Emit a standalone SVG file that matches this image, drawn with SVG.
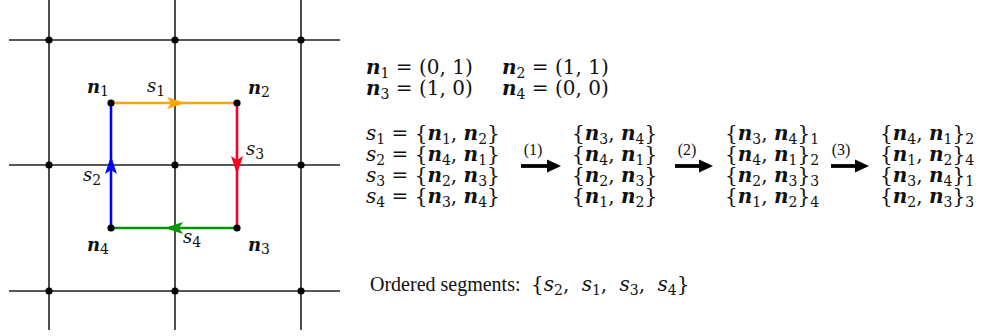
<svg xmlns="http://www.w3.org/2000/svg" width="990" height="336" viewBox="0 0 990 336">
<style>
.grid{stroke:#222;stroke-width:1.6;fill:none}
.dot{fill:#000}
.t{font-family:"DejaVu Serif","Liberation Serif",serif;font-size:20px;fill:#111}
.l{font-family:"DejaVu Serif","Liberation Serif",serif;font-size:18px;fill:#111}
.r{font-family:"Liberation Serif","DejaVu Serif",serif;font-size:20px;fill:#111}
.i{font-style:italic}
.b{font-weight:bold;font-style:italic}
.sub{font-size:14px}
.sm{font-family:"Liberation Serif","DejaVu Serif",serif;font-size:16px;fill:#111}
.big{stroke:#000;stroke-width:3.8}
.ws{word-spacing:6px}
</style>
<rect width="990" height="336" fill="#fff"/>
<g id="grid">
<path class="grid" d="M9,40H340M9,165H340M9,291H340M49,0V330M175,0V330M301,0V330"/>
<g class="dot">
<circle cx="49" cy="40" r="3.6"/><circle cx="175" cy="40" r="3.6"/><circle cx="301" cy="40" r="3.6"/>
<circle cx="49" cy="165" r="3.6"/><circle cx="175" cy="165" r="3.6"/><circle cx="301" cy="165" r="3.6"/>
<circle cx="49" cy="291" r="3.6"/><circle cx="175" cy="291" r="3.6"/><circle cx="301" cy="291" r="3.6"/>
</g>
</g>
<g id="connectors" stroke-width="2.6" fill="none">
<g id="s1"><path d="M111,103H237" stroke="#FFA500"/><path d="M185,103L167,97L171,103L167,109Z" fill="#FFA500"/></g>
<g id="s3"><path d="M237,103V228" stroke="#FF0022"/><path d="M237,174L231,156L237,160L243,156Z" fill="#FF0022"/></g>
<g id="s4"><path d="M237,228H111" stroke="#009600"/><path d="M165,228L183,222L179,228L183,234Z" fill="#009600"/></g>
<g id="s2"><path d="M111,228V103" stroke="#0000FF"/><path d="M111,156L105,174L111,170L117,174Z" fill="#0000FF"/></g>
</g>
<g id="n1"><circle class="dot" cx="111" cy="103" r="3.6"/><text class="l" x="87" y="93"><tspan class="b">n</tspan><tspan class="sub" dy="3">1</tspan></text></g>
<g id="n2"><circle class="dot" cx="237" cy="103" r="3.6"/><text class="l" x="248" y="94"><tspan class="b">n</tspan><tspan class="sub" dy="3">2</tspan></text></g>
<g id="n3"><circle class="dot" cx="237" cy="228" r="3.6"/><text class="l" x="248" y="251"><tspan class="b">n</tspan><tspan class="sub" dy="3">3</tspan></text></g>
<g id="n4"><circle class="dot" cx="111" cy="228" r="3.6"/><text class="l" x="87" y="251"><tspan class="b">n</tspan><tspan class="sub" dy="3">4</tspan></text></g>
<g id="labels">
<text class="l" x="147" y="92"><tspan class="i">s</tspan><tspan class="sub" dy="4">1</tspan></text>
<text class="l" x="246" y="155"><tspan class="i">s</tspan><tspan class="sub" dy="4">3</tspan></text>
<text class="l" x="83" y="181"><tspan class="i">s</tspan><tspan class="sub" dy="4">2</tspan></text>
<text class="l" x="183" y="243"><tspan class="i">s</tspan><tspan class="sub" dy="4">4</tspan></text>
</g>
<g id="coords">
<text class="t" x="366" y="74"><tspan class="b">n</tspan><tspan class="sub" dy="4">1</tspan><tspan dy="-4"> = (0, 1)</tspan></text>
<text class="t" x="502" y="74"><tspan class="b">n</tspan><tspan class="sub" dy="4">2</tspan><tspan dy="-4"> = (1, 1)</tspan></text>
<text class="t" x="366" y="95"><tspan class="b">n</tspan><tspan class="sub" dy="4">3</tspan><tspan dy="-4"> = (1, 0)</tspan></text>
<text class="t" x="502" y="95"><tspan class="b">n</tspan><tspan class="sub" dy="4">4</tspan><tspan dy="-4"> = (0, 0)</tspan></text>
</g>
<g id="col1">
<text class="t" x="366" y="140"><tspan class="i">s</tspan><tspan class="sub" dy="4">1</tspan><tspan dy="-4"> = {</tspan><tspan class="b">n</tspan><tspan class="sub" dy="4">1</tspan><tspan dy="-4">, </tspan><tspan class="b">n</tspan><tspan class="sub" dy="4">2</tspan><tspan dy="-4">}</tspan></text>
<text class="t" x="366" y="161"><tspan class="i">s</tspan><tspan class="sub" dy="4">2</tspan><tspan dy="-4"> = {</tspan><tspan class="b">n</tspan><tspan class="sub" dy="4">4</tspan><tspan dy="-4">, </tspan><tspan class="b">n</tspan><tspan class="sub" dy="4">1</tspan><tspan dy="-4">}</tspan></text>
<text class="t" x="366" y="182"><tspan class="i">s</tspan><tspan class="sub" dy="4">3</tspan><tspan dy="-4"> = {</tspan><tspan class="b">n</tspan><tspan class="sub" dy="4">2</tspan><tspan dy="-4">, </tspan><tspan class="b">n</tspan><tspan class="sub" dy="4">3</tspan><tspan dy="-4">}</tspan></text>
<text class="t" x="366" y="203"><tspan class="i">s</tspan><tspan class="sub" dy="4">4</tspan><tspan dy="-4"> = {</tspan><tspan class="b">n</tspan><tspan class="sub" dy="4">3</tspan><tspan dy="-4">, </tspan><tspan class="b">n</tspan><tspan class="sub" dy="4">4</tspan><tspan dy="-4">}</tspan></text>
</g>
<g id="col2">
<text class="t" x="572" y="140">{<tspan class="b">n</tspan><tspan class="sub" dy="4">3</tspan><tspan dy="-4">, </tspan><tspan class="b">n</tspan><tspan class="sub" dy="4">4</tspan><tspan dy="-4">}</tspan></text>
<text class="t" x="572" y="161">{<tspan class="b">n</tspan><tspan class="sub" dy="4">4</tspan><tspan dy="-4">, </tspan><tspan class="b">n</tspan><tspan class="sub" dy="4">1</tspan><tspan dy="-4">}</tspan></text>
<text class="t" x="572" y="182">{<tspan class="b">n</tspan><tspan class="sub" dy="4">2</tspan><tspan dy="-4">, </tspan><tspan class="b">n</tspan><tspan class="sub" dy="4">3</tspan><tspan dy="-4">}</tspan></text>
<text class="t" x="572" y="203">{<tspan class="b">n</tspan><tspan class="sub" dy="4">1</tspan><tspan dy="-4">, </tspan><tspan class="b">n</tspan><tspan class="sub" dy="4">2</tspan><tspan dy="-4">}</tspan></text>
</g>
<g id="col3">
<text class="t" x="725" y="140">{<tspan class="b">n</tspan><tspan class="sub" dy="4">3</tspan><tspan dy="-4">, </tspan><tspan class="b">n</tspan><tspan class="sub" dy="4">4</tspan><tspan dy="-4">}</tspan><tspan class="sub" dy="4">1</tspan></text>
<text class="t" x="725" y="161">{<tspan class="b">n</tspan><tspan class="sub" dy="4">4</tspan><tspan dy="-4">, </tspan><tspan class="b">n</tspan><tspan class="sub" dy="4">1</tspan><tspan dy="-4">}</tspan><tspan class="sub" dy="4">2</tspan></text>
<text class="t" x="725" y="182">{<tspan class="b">n</tspan><tspan class="sub" dy="4">2</tspan><tspan dy="-4">, </tspan><tspan class="b">n</tspan><tspan class="sub" dy="4">3</tspan><tspan dy="-4">}</tspan><tspan class="sub" dy="4">3</tspan></text>
<text class="t" x="725" y="203">{<tspan class="b">n</tspan><tspan class="sub" dy="4">1</tspan><tspan dy="-4">, </tspan><tspan class="b">n</tspan><tspan class="sub" dy="4">2</tspan><tspan dy="-4">}</tspan><tspan class="sub" dy="4">4</tspan></text>
</g>
<g id="col4">
<text class="t" x="880" y="140">{<tspan class="b">n</tspan><tspan class="sub" dy="4">4</tspan><tspan dy="-4">, </tspan><tspan class="b">n</tspan><tspan class="sub" dy="4">1</tspan><tspan dy="-4">}</tspan><tspan class="sub" dy="4">2</tspan></text>
<text class="t" x="880" y="161">{<tspan class="b">n</tspan><tspan class="sub" dy="4">1</tspan><tspan dy="-4">, </tspan><tspan class="b">n</tspan><tspan class="sub" dy="4">2</tspan><tspan dy="-4">}</tspan><tspan class="sub" dy="4">4</tspan></text>
<text class="t" x="880" y="182">{<tspan class="b">n</tspan><tspan class="sub" dy="4">3</tspan><tspan dy="-4">, </tspan><tspan class="b">n</tspan><tspan class="sub" dy="4">4</tspan><tspan dy="-4">}</tspan><tspan class="sub" dy="4">1</tspan></text>
<text class="t" x="880" y="203">{<tspan class="b">n</tspan><tspan class="sub" dy="4">2</tspan><tspan dy="-4">, </tspan><tspan class="b">n</tspan><tspan class="sub" dy="4">3</tspan><tspan dy="-4">}</tspan><tspan class="sub" dy="4">3</tspan></text>
</g>
<g id="steps">
<text class="sm" x="533" y="155" text-anchor="middle">(1)</text>
<path class="big" d="M521,166H549"/><path d="M561,166L547,159.5L547,172.5Z"/>
<text class="sm" x="687" y="155" text-anchor="middle">(2)</text>
<path class="big" d="M675,166H701"/><path d="M713,166L699,159.5L699,172.5Z"/>
<text class="sm" x="841" y="155" text-anchor="middle">(3)</text>
<path class="big" d="M831,166H857"/><path d="M869,166L855,159.5L855,172.5Z"/>
</g>
<text class="r" x="370" y="291">Ordered segments:</text>
<text class="t ws" x="531" y="291">{<tspan class="i">s</tspan><tspan class="sub" dy="4">2</tspan><tspan dy="-4">, </tspan><tspan class="i">s</tspan><tspan class="sub" dy="4">1</tspan><tspan dy="-4">, </tspan><tspan class="i">s</tspan><tspan class="sub" dy="4">3</tspan><tspan dy="-4">, </tspan><tspan class="i">s</tspan><tspan class="sub" dy="4">4</tspan><tspan dy="-4">}</tspan></text>
</svg>
